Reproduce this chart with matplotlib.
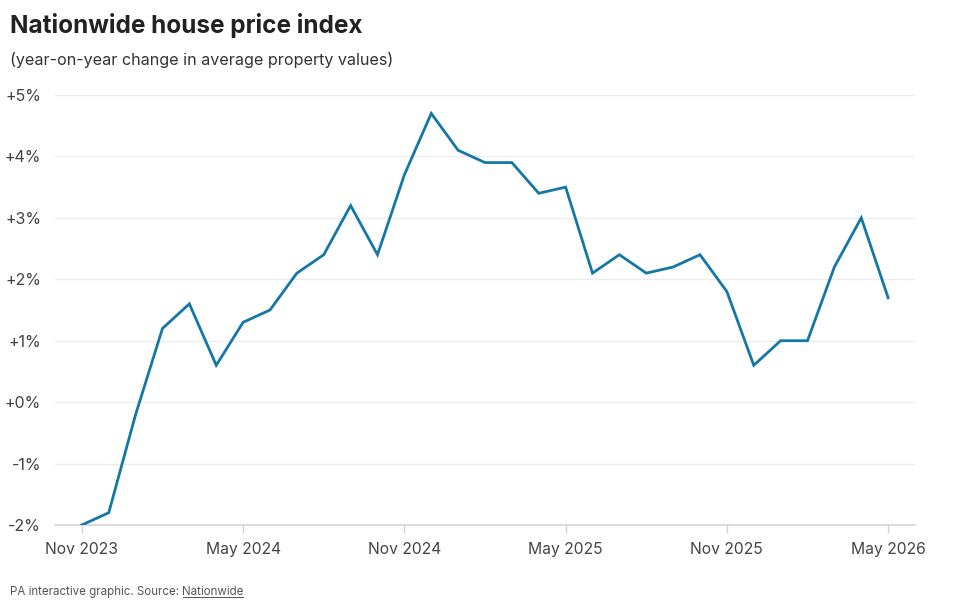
import matplotlib
matplotlib.use("Agg")
import matplotlib.pyplot as plt
from matplotlib.lines import Line2D

months = ["Nov 2023", "Dec 2023", "Jan 2024", "Feb 2024", "Mar 2024", "Apr 2024",
          "May 2024", "Jun 2024", "Jul 2024", "Aug 2024", "Sep 2024", "Oct 2024",
          "Nov 2024", "Dec 2024", "Jan 2025", "Feb 2025", "Mar 2025", "Apr 2025",
          "May 2025", "Jun 2025", "Jul 2025", "Aug 2025", "Sep 2025", "Oct 2025",
          "Nov 2025", "Dec 2025", "Jan 2026", "Feb 2026", "Mar 2026", "Apr 2026",
          "May 2026"]
values = [-2.0, -1.8, -0.2, 1.2, 1.6, 0.6,
          1.3, 1.5, 2.1, 2.4, 3.2, 2.4,
          3.7, 4.7, 4.1, 3.9, 3.9, 3.4,
          3.5, 2.1, 2.4, 2.1, 2.2, 2.4,
          1.8, 0.6, 1.0, 1.0, 2.2, 3.0,
          1.7]
xtick_labels = ["Nov 2023", "May 2024", "Nov 2024", "May 2025", "Nov 2025", "May 2026"]
yticks = [-2, -1, 0, 1, 2, 3, 4, 5]
ytick_labels = ["-2%", "-1%", "+0%", "+1%", "+2%", "+3%", "+4%", "+5%"]

plt.rcParams['font.family'] = ['Inter', 'DejaVu Sans']

W, H = 960, 611
fig = plt.figure(figsize=(W / 100, H / 100), dpi=100)
fig.patch.set_facecolor("white")

ax = fig.add_axes([55 / W, 1 - 525 / H, (915 - 55) / W, (525 - 95) / H])
x = list(range(len(months)))
ax.plot(x, values, color="#1477a6", lw=2.0, solid_joinstyle="miter", zorder=3)

ax.set_xlim(-1, len(months))
ax.set_ylim(-2, 5)
ax.set_yticks(yticks)
ax.set_yticklabels(ytick_labels)
xt = [months.index(m) for m in xtick_labels]
ax.set_xticks(xt)
ax.set_xticklabels(xtick_labels)

for s in ["top", "right", "left"]:
    ax.spines[s].set_visible(False)
ax.spines["bottom"].set_color("#d4d4d4")
ax.spines["bottom"].set_linewidth(1.2)
ax.grid(axis="y", color="#ececec", lw=0.9, zorder=0)
ax.set_axisbelow(True)
ax.tick_params(axis="y", length=0, pad=10, labelsize=11.5, labelcolor="#444444")
ax.tick_params(axis="x", length=6, width=1, color="#d4d4d4", pad=6,
               labelsize=11.3, labelcolor="#444444")

fig.text(10 / W, 1 - 25 / H, "Nationwide house price index", fontsize=17.5,
         fontweight="bold", color="#222222", va="center", ha="left")
fig.text(10 / W, 1 - 60 / H, "(year-on-year change in average property values)",
         fontsize=11.6, color="#333333", va="center", ha="left")

t1 = fig.text(10 / W, 1 - 592 / H, "PA interactive graphic. Source: ", fontsize=8.3,
              color="#555555", va="center", ha="left")
fig.canvas.draw()
r = fig.canvas.get_renderer()
bb = t1.get_window_extent(r)
t2 = fig.text(bb.x1 / W, 1 - 592 / H, "Nationwide", fontsize=8.3,
              color="#555555", va="center", ha="left")
fig.canvas.draw()
bb2 = t2.get_window_extent(r)
uy = (bb2.y0 + 1) / H
fig.add_artist(Line2D([(bb2.x0 + 1) / W, (bb2.x1 - 1) / W], [uy, uy], color="#555555", lw=0.7))

fig.savefig("out.png", dpi=100, facecolor="white")
